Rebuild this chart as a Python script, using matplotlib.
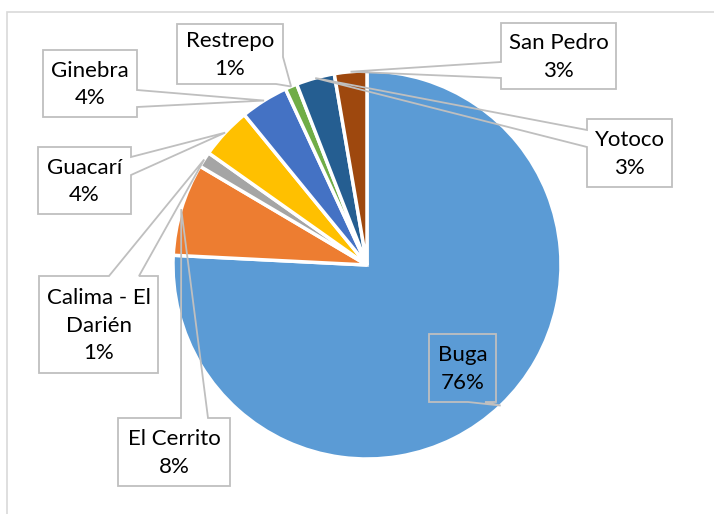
import matplotlib.pyplot as plt
import numpy as np
from matplotlib.patches import Polygon, Rectangle

# municipios y participación (%), en el orden del gráfico (horario desde las 12)
municipios = ['Buga', 'El Cerrito', 'Calima - El\nDarién', 'Guacarí',
              'Ginebra', 'Restrepo', 'Yotoco', 'San Pedro']
participacion = [75.8, 7.7, 1.3, 4.3, 4.0, 1.0, 3.2, 2.7]
etiquetas_pct = ['76%', '8%', '1%', '4%', '4%', '1%', '3%', '3%']
colores = ['#5B9BD5', '#ED7D31', '#A5A5A5', '#FFC000',
           '#4472C4', '#70AD47', '#255E91', '#9E480E']

W, H = 714, 514
CX, CY, R = 367, 265, 194   # centro y radio del pastel (pixeles, y hacia abajo)

# cajas de las etiquetas: (izq, arriba, der, abajo), lado del puntero, base del puntero
cajas = [
    ((429, 334, 496, 402), 'bottom', (468, 485)),
    ((118, 418, 230, 486), 'top', (181, 208)),
    ((39, 276, 158, 373), 'top', (109, 139)),
    ((38, 147, 131, 214), 'right', (157, 175)),
    ((43, 50, 137, 117), 'right', (90, 107)),
    ((177, 24, 283, 84), 'br', (57, 276)),
    ((587, 119, 672, 187), 'left', (130, 147)),
    ((501, 23, 616, 89), 'left', (62, 78)),
]


def py(y):
    return H - y


def callout_vertices(box, side, base, tip):
    l, t, r, b = box
    a1, a2 = base
    pts = [(l, t)]
    if side == 'top':
        pts += [(a1, t), tip, (a2, t)]
    pts.append((r, t))
    if side == 'right':
        pts += [(r, a1), tip, (r, a2)]
    if side == 'br':
        pts += [(r, a1), tip, (a2, b)]
    else:
        pts.append((r, b))
    if side == 'bottom':
        pts += [(a2, b), tip, (a1, b)]
    pts.append((l, b))
    if side == 'left':
        pts += [(l, a2), tip, (l, a1)]
    return [(x, py(y)) for x, y in pts]


fig = plt.figure(figsize=(W / 100, H / 100), dpi=100)
ax = fig.add_axes([0, 0, 1, 1])

wedges, _ = ax.pie(participacion, colors=colores, startangle=90,
                   counterclock=False, center=(CX, py(CY)), radius=R,
                   wedgeprops=dict(edgecolor='white', linewidth=2.5))

ax.set_xlim(0, W)
ax.set_ylim(0, H)
ax.set_aspect('equal')
ax.axis('off')

# marco del área del gráfico
ax.add_patch(Rectangle((7, py(600)), 800, 588, fill=False,
                       edgecolor='#D9D9D9', linewidth=1.2))

for w, nombre, pct, (box, side, base) in zip(wedges, municipios, etiquetas_pct, cajas):
    # la punta del puntero va al borde de la porción, en su ángulo medio
    ang = np.deg2rad((w.theta1 + w.theta2) / 2)
    tip = (CX + R * np.cos(ang), CY - R * np.sin(ang))
    verts = callout_vertices(box, side, base, tip)
    ax.add_patch(Polygon(verts, closed=True, facecolor='none',
                         edgecolor='#BFBFBF', linewidth=1.3, zorder=5))
    l, t, r, b = box
    ax.text((l + r) / 2, py((t + b) / 2) - 1, nombre + '\n' + pct,
            ha='center', va='center', fontsize=16, family='Lato',
            linespacing=1.45, color='black', zorder=6)

fig.savefig('out.png', dpi=100)
